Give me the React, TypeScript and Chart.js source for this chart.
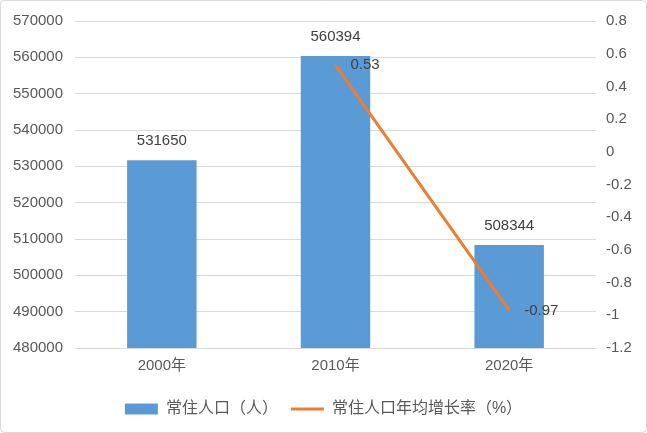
import { useEffect, useRef } from "react";
import { Chart, registerables } from "chart.js";

Chart.register(...registerables);

const categories: string[] = ["2000年", "2010年", "2020年"];
const populationValues: number[] = [531650, 560394, 508344];
const growthRateValues: (number | null)[] = [null, 0.53, -0.97];
const populationLabel = "常住人口（人）";
const growthLabel = "常住人口年均增长率（%）";
const leftMin = 480000;
const leftMax = 570000;
const leftStep = 10000;
const rightMin = -1.2;
const rightMax = 0.8;
const rightStep = 0.2;

const FONT = '"Liberation Sans", "Noto Sans CJK SC", sans-serif';
const TEXT = "#595959";
const LABEL = "#404040";
const GRID = "#D9D9D9";
const BLUE = "#5B9BD5";
const ORANGE = "#ED7D31";

const decorPlugin = {
  id: "decor",
  beforeDraw(chart: any) {
    const { ctx, width, height } = chart;
    ctx.save();
    ctx.fillStyle = "#ffffff";
    ctx.fillRect(0, 0, width, height);
    ctx.restore();
  },
  afterDraw(chart: any) {
    const { ctx, width, height } = chart;
    ctx.save();
    ctx.strokeStyle = GRID;
    ctx.lineWidth = 1;
    ctx.beginPath();
    if ((ctx as any).roundRect) {
      (ctx as any).roundRect(0.5, 0.5, width - 1, height - 1, 4);
    } else {
      ctx.rect(0.5, 0.5, width - 1, height - 1);
    }
    ctx.stroke();
    ctx.restore();
  },
  afterDatasetsDraw(chart: any) {
    const { ctx } = chart;
    ctx.save();
    ctx.font = `15px ${FONT}`;
    ctx.fillStyle = LABEL;
    ctx.textBaseline = "middle";
    chart.data.datasets.forEach((ds: any, i: number) => {
      const meta = chart.getDatasetMeta(i);
      meta.data.forEach((el: any, j: number) => {
        const v = ds.data[j];
        if (v === null || v === undefined) return;
        if (ds.type === "bar") {
          ctx.textAlign = "center";
          ctx.fillText(String(v), el.x, el.y - 19);
        } else {
          ctx.textAlign = "left";
          ctx.fillText(String(v), el.x + 15, el.y);
        }
      });
    });
    ctx.restore();
  },
};

export default function App() {
  const ref = useRef<HTMLCanvasElement | null>(null);

  useEffect(() => {
    document.body.style.margin = "0";
    const canvas = ref.current;
    if (!canvas) return;
    const chart = new Chart(canvas, {
      type: "bar",
      data: {
        labels: categories,
        datasets: [
          {
            type: "bar",
            label: populationLabel,
            data: populationValues,
            backgroundColor: BLUE,
            borderWidth: 0,
            yAxisID: "y",
            barPercentage: 0.4,
            categoryPercentage: 1,
            order: 1,
            pointStyle: "rect",
          } as any,
          {
            type: "line",
            label: growthLabel,
            data: growthRateValues,
            borderColor: ORANGE,
            backgroundColor: ORANGE,
            borderWidth: 3,
            pointRadius: 0,
            pointHoverRadius: 0,
            pointStyle: "line",
            yAxisID: "y1",
            order: 0,
            tension: 0,
          } as any,
        ],
      },
      options: {
        responsive: false,
        animation: false,
        layout: { padding: { top: 18, bottom: 6, left: 0, right: 0 } },
        plugins: {
          tooltip: { enabled: false },
          legend: {
            display: true,
            position: "bottom",
            labels: {
              usePointStyle: true,
              pointStyleWidth: 33,
              boxHeight: 11,
              padding: 13,
              color: TEXT,
              font: { size: 16, family: FONT },
              sort: (a: any, b: any) => a.datasetIndex - b.datasetIndex,
            },
          },
        },
        scales: {
          x: {
            grid: { display: false, drawTicks: false },
            border: { display: true, color: GRID },
            ticks: { color: TEXT, font: { size: 15, family: FONT }, padding: 9 },
            afterFit: (s: any) => {
              s.height = 40;
            },
          },
          y: {
            position: "left",
            min: leftMin,
            max: leftMax,
            grid: { color: GRID, drawTicks: false },
            border: { display: false },
            ticks: {
              stepSize: leftStep,
              color: TEXT,
              font: { size: 15, family: FONT },
              padding: 12,
              callback: (v: any) => String(v),
            },
            afterFit: (s: any) => {
              s.width = 75;
            },
          },
          y1: {
            position: "right",
            min: rightMin,
            max: rightMax,
            grid: { display: false, drawTicks: false },
            border: { display: false },
            ticks: {
              stepSize: rightStep,
              color: TEXT,
              font: { size: 15, family: FONT },
              padding: 10,
              callback: (v: any) => String(parseFloat(Number(v).toFixed(1))),
            },
            afterFit: (s: any) => {
              s.width = 51;
            },
          },
        },
      } as any,
      plugins: [decorPlugin],
    });
    return () => chart.destroy();
  }, []);

  return (
    <div style={{ position: "absolute", left: 0, top: 0, width: 647, height: 433 }}>
      <canvas ref={ref} width={647} height={433} />
    </div>
  );
}
